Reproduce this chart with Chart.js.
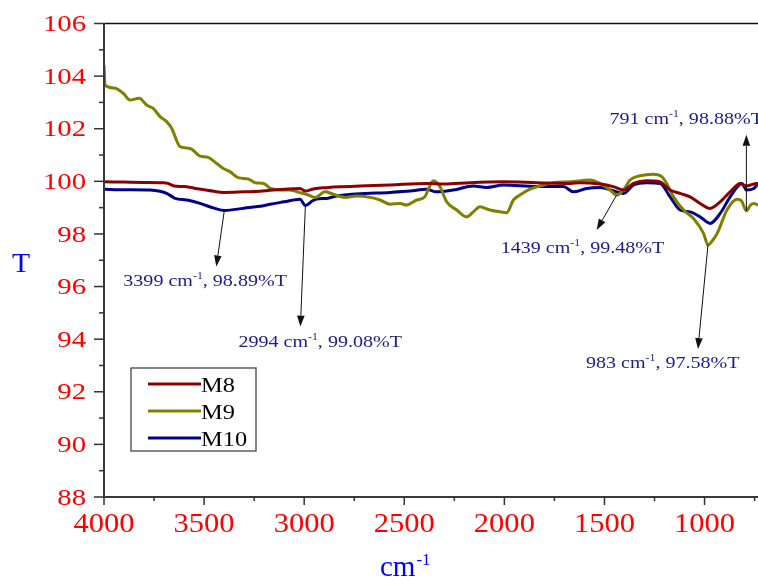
<!DOCTYPE html>
<html>
<head>
<meta charset="utf-8">
<title>FTIR spectra M8, M9, M10</title>
<script src="https://cdn.jsdelivr.net/npm/chart.js@4.4.1/dist/chart.umd.min.js"></script>
<style>
  html, body { margin: 0; padding: 0; background: #ffffff; }
  canvas { display: block; }
</style>
</head>
<body>
<canvas id="ftir" width="758" height="577"></canvas>
<script>
// ---- spectra (wavenumber in cm-1, transmittance in %T) ----
const m8Wavenumber = [4000, 3900, 3800, 3704, 3680, 3650, 3600, 3550, 3500, 3450, 3404, 3300, 3221, 3171, 3100, 3021, 2994, 2960, 2938, 2888, 2821, 2721, 2571, 2388, 2300, 2172, 2005, 1839, 1672, 1622, 1522, 1456, 1405, 1355, 1289, 1222, 1172, 1122, 1072, 1022, 972, 922, 872, 822, 791, 754, 733];
const m8Transmittance = [99.98, 99.97, 99.96, 99.95, 99.92, 99.82, 99.80, 99.74, 99.68, 99.62, 99.58, 99.60, 99.62, 99.66, 99.70, 99.73, 99.63, 99.70, 99.73, 99.76, 99.79, 99.82, 99.86, 99.92, 99.90, 99.95, 99.98, 99.95, 99.92, 99.95, 99.90, 99.80, 99.67, 99.92, 100.02, 99.98, 99.67, 99.54, 99.41, 99.16, 98.97, 99.22, 99.60, 99.92, 99.82, 99.90, 99.92];

const m9Wavenumber = [4000, 3995, 3950, 3904, 3870, 3824, 3787, 3754, 3720, 3687, 3662, 3620, 3570, 3520, 3479, 3437, 3404, 3371, 3329, 3279, 3245, 3202, 3168, 3118, 3071, 3021, 2979, 2944, 2896, 2855, 2796, 2738, 2671, 2621, 2571, 2521, 2488, 2438, 2397, 2380, 2355, 2322, 2288, 2238, 2188, 2155, 2122, 2072, 2022, 1988, 1955, 1922, 1872, 1805, 1756, 1672, 1572, 1522, 1472, 1439, 1405, 1372, 1322, 1256, 1214, 1189, 1155, 1105, 1055, 1005, 983, 960, 937, 888, 838, 815, 791, 770, 754, 733];
const m9Transmittance = [104.42, 103.66, 103.55, 103.35, 103.09, 103.16, 102.90, 102.77, 102.46, 102.27, 102.02, 101.32, 101.25, 100.96, 100.91, 100.68, 100.49, 100.37, 100.14, 100.09, 99.95, 99.92, 99.73, 99.67, 99.67, 99.57, 99.48, 99.39, 99.60, 99.51, 99.39, 99.44, 99.39, 99.29, 99.13, 99.16, 99.10, 99.29, 99.41, 99.70, 100.02, 99.80, 99.22, 98.91, 98.65, 98.84, 99.03, 98.91, 98.84, 98.81, 99.29, 99.48, 99.70, 99.86, 99.95, 99.98, 100.05, 99.92, 99.67, 99.48, 99.67, 100.05, 100.21, 100.27, 100.18, 99.92, 99.41, 98.91, 98.59, 98.02, 97.58, 97.75, 98.02, 98.91, 99.32, 99.25, 98.88, 99.10, 99.16, 99.10];

const m10Wavenumber = [4000, 3900, 3770, 3720, 3687, 3660, 3645, 3587, 3520, 3450, 3399, 3300, 3221, 3171, 3100, 3021, 2994, 2960, 2938, 2888, 2838, 2738, 2571, 2471, 2388, 2339, 2255, 2155, 2088, 2005, 1839, 1705, 1655, 1589, 1522, 1456, 1405, 1355, 1289, 1222, 1172, 1122, 1072, 1022, 972, 922, 872, 813, 791, 754, 733];
const m10Transmittance = [99.70, 99.68, 99.67, 99.62, 99.54, 99.42, 99.35, 99.29, 99.16, 98.98, 98.89, 98.98, 99.05, 99.13, 99.22, 99.32, 99.08, 99.25, 99.33, 99.35, 99.44, 99.52, 99.58, 99.63, 99.70, 99.60, 99.67, 99.82, 99.77, 99.86, 99.80, 99.80, 99.60, 99.73, 99.77, 99.64, 99.54, 99.86, 99.95, 99.92, 99.41, 98.91, 98.84, 98.65, 98.40, 98.78, 99.41, 99.92, 99.67, 99.73, 99.92];

const seriesNames = ['M8', 'M9', 'M10'];
const seriesColors = ['#8b0000', '#808000', '#00008b'];

// marked absorption bands
const peakSeries = ['M10', 'M10', 'M9', 'M9', 'M9'];
const peakWavenumber = [3399, 2994, 1439, 983, 791];
const peakTransmittance = [98.89, 99.08, 99.48, 97.58, 98.88];

// axis ranges and tick steps
const xRange = [733, 4000];
const yRange = [88, 106];
const xTickStep = 250, xLabelStep = 500;
const yTickStep = 1, yLabelStep = 2;

// ---- layout / style (pixel offsets of arrow heads and label text from the band point) ----
const calloutLayout = [
  { head: [-8, 56],  text: [-101, 75.5] },
  { head: [-5, 121], text: [-67, 141] },
  { head: [-20, 35], text: [-116, 57.5] },
  { head: [-10, 104], text: [-122, 123] },
  { head: [0, -76],  text: [-137, -87] }
];
const SERIF = '"Liberation Serif", "Times New Roman", serif';

function toPoints(xs, ys) { return xs.map((x, i) => ({ x: x, y: ys[i] })); }

// ticks on every multiple of the step inside the axis range
function stepTicks(scale, step) {
  const out = [];
  for (let v = Math.ceil(scale.min / step) * step; v <= scale.max + 1e-9; v += step) out.push({ value: v });
  scale.ticks = out;
}

function drawText(ctx, str, x, y, size, color, align, sx) {
  ctx.save();
  ctx.font = size + 'px ' + SERIF;
  ctx.fillStyle = color;
  ctx.textAlign = 'left';
  ctx.textBaseline = 'alphabetic';
  const w = ctx.measureText(str).width * sx;
  let left = x;
  if (align === 'center') left = x - w / 2;
  else if (align === 'right') left = x - w;
  ctx.translate(left, y);
  ctx.scale(sx, 1);
  ctx.fillText(str, 0, 0);
  ctx.restore();
  return w;
}

function line(ctx, x1, y1, x2, y2) {
  ctx.beginPath(); ctx.moveTo(x1, y1); ctx.lineTo(x2, y2); ctx.stroke();
}

function arrow(ctx, x1, y1, x2, y2) {
  ctx.save();
  ctx.strokeStyle = '#111'; ctx.fillStyle = '#111'; ctx.lineWidth = 1;
  const ang = Math.atan2(y2 - y1, x2 - x1);
  const len = 11, half = 3.8;
  const bx = x2 - len * Math.cos(ang), by = y2 - len * Math.sin(ang);
  line(ctx, x1, y1, bx, by);
  ctx.beginPath();
  ctx.moveTo(x2, y2);
  ctx.lineTo(bx + half * Math.sin(ang), by - half * Math.cos(ang));
  ctx.lineTo(bx - half * Math.sin(ang), by + half * Math.cos(ang));
  ctx.closePath(); ctx.fill();
  ctx.restore();
}

const frame = {
  id: 'frame',
  beforeDraw(chart) {
    const ctx = chart.ctx;
    ctx.save(); ctx.fillStyle = '#ffffff'; ctx.fillRect(0, 0, chart.width, chart.height); ctx.restore();
  },
  afterDraw(chart) {
    const ctx = chart.ctx, a = chart.chartArea;
    const xs = chart.scales.x, ys = chart.scales.y;
    ctx.save();
    ctx.lineCap = 'butt';
    // axis lines
    ctx.strokeStyle = '#111'; ctx.lineWidth = 1.5;
    line(ctx, a.left, a.top, a.right, a.top);
    ctx.strokeStyle = '#3a3a3a'; ctx.lineWidth = 2;
    line(ctx, a.left, a.top - 0.5, a.left, a.bottom + 1);
    line(ctx, a.left - 1, a.bottom, a.right, a.bottom);
    // tick marks and labels
    ctx.lineWidth = 1.5; ctx.strokeStyle = '#333';
    ys.ticks.forEach(t => {
      const y = ys.getPixelForValue(t.value);
      const major = Math.abs(t.value % yLabelStep) < 1e-9;
      line(ctx, a.left - (major ? 10 : 5), y, a.left, y);
      if (major) drawText(ctx, String(t.value), a.left - 18, y + 7.7, 23, '#ff0000', 'right', 1.25);
    });
    xs.ticks.forEach(t => {
      const x = xs.getPixelForValue(t.value);
      const major = Math.abs(t.value % xLabelStep) < 1e-9;
      line(ctx, x, a.bottom, x, a.bottom + (major ? 8 : 4));
      if (major) drawText(ctx, String(t.value), x, a.bottom + 35, 28, '#ff0000', 'center', 1.09);
    });
    // axis titles
    drawText(ctx, 'T', 21, 272, 27, '#0000ff', 'center', 1.1);
    const cmW = drawText(ctx, 'cm', 380, 576, 29, '#0000ff', 'left', 1.0);
    drawText(ctx, '-1', 380 + cmW + 1, 565, 17, '#0000ff', 'left', 1.0);

    // band callouts
    peakWavenumber.forEach((wn, i) => {
      const px = xs.getPixelForValue(wn), py = ys.getPixelForValue(peakTransmittance[i]);
      const lay = calloutLayout[i];
      arrow(ctx, px, py, px + lay.head[0], py + lay.head[1]);
      let tx = px + lay.text[0];
      const ty = py + lay.text[1];
      const col = '#1c1c8c', sx = 1.18;
      tx += drawText(ctx, wn + ' cm', tx, ty, 17, col, 'left', sx);
      tx += drawText(ctx, '-1', tx, ty - 7, 10, col, 'left', sx);
      drawText(ctx, ', ' + peakTransmittance[i].toFixed(2) + '%T', tx, ty, 17, col, 'left', sx);
    });

    // legend
    const lx = 131, ly = 368, lw = 125, lh = 83;
    ctx.fillStyle = '#ffffff'; ctx.fillRect(lx, ly, lw, lh);
    ctx.strokeStyle = '#444'; ctx.lineWidth = 1.3;
    ctx.strokeRect(lx, ly, lw, lh);
    chart.data.datasets.forEach((ds, i) => {
      const y = 384 + i * 27;
      ctx.strokeStyle = ds.borderColor; ctx.lineWidth = 3;
      line(ctx, 148, y, 201, y);
      drawText(ctx, ds.label, 201, y + 8, 20, '#000000', 'left', 1.22);
    });
    ctx.restore();
  }
};

const wnSets = [m8Wavenumber, m9Wavenumber, m10Wavenumber];
const tSets = [m8Transmittance, m9Transmittance, m10Transmittance];

new Chart(document.getElementById('ftir'), {
  type: 'line',
  data: {
    datasets: seriesNames.map((name, i) => ({
      label: name,
      data: toPoints(wnSets[i], tSets[i]),
      borderColor: seriesColors[i],
      backgroundColor: seriesColors[i],
      borderWidth: 3,
      pointRadius: 0,
      fill: false,
      cubicInterpolationMode: 'monotone'
    }))
  },
  options: {
    responsive: false,
    animation: false,
    devicePixelRatio: 1,
    layout: { padding: { top: 23.5, right: 0, bottom: 0, left: 0 } },
    plugins: { legend: { display: false }, tooltip: { enabled: false }, title: { display: false } },
    scales: {
      x: {
        type: 'linear', reverse: true, min: xRange[0], max: xRange[1],
        afterBuildTicks: s => stepTicks(s, xTickStep),
        afterFit: s => { s.height = 80; },
        grid: { display: false },
        border: { display: false },
        ticks: { display: false, autoSkip: false }
      },
      y: {
        type: 'linear', min: yRange[0], max: yRange[1],
        afterBuildTicks: s => stepTicks(s, yTickStep),
        afterFit: s => { s.width = 104; },
        grid: { display: false },
        border: { display: false },
        ticks: { display: false, autoSkip: false }
      }
    }
  },
  plugins: [frame]
});
</script>
</body>
</html>
